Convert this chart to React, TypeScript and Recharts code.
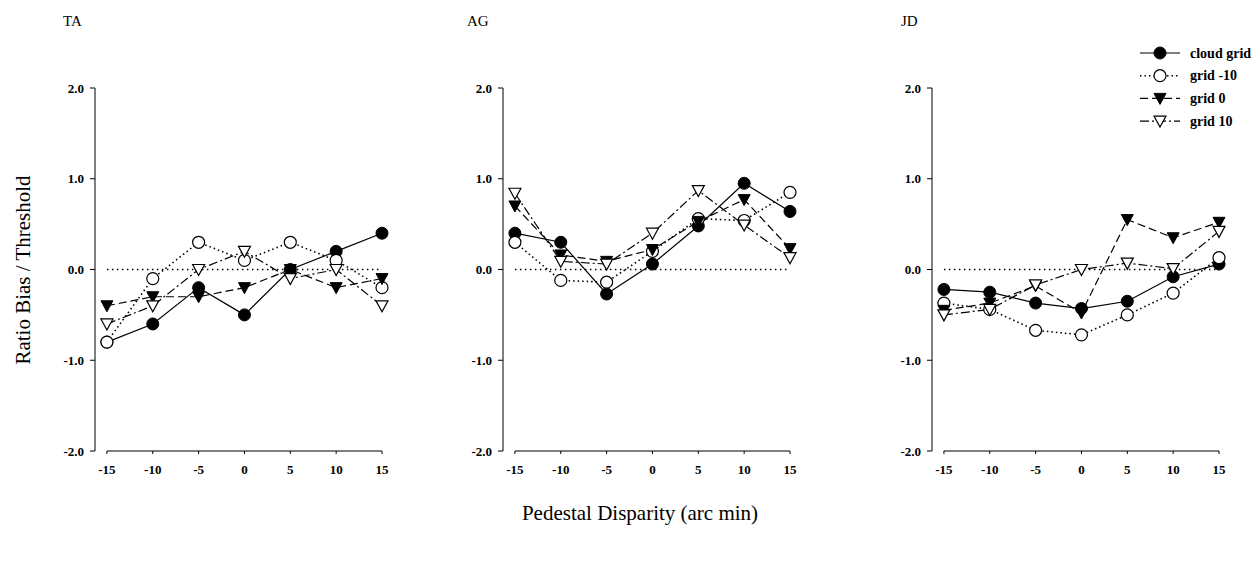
import React from 'react';
import { LineChart, Line, XAxis, YAxis, ReferenceLine } from 'recharts';

const disparity = [-15, -10, -5, 0, 5, 10, 15];
const yTicks = [-2, -1, 0, 1, 2];

// TA
const taCloud = [-0.8, -0.6, -0.2, -0.5, 0.0, 0.2, 0.4];
const taGridM10 = [-0.8, -0.1, 0.3, 0.1, 0.3, 0.1, -0.2];
const taGrid0 = [-0.4, -0.3, -0.3, -0.2, 0.0, -0.2, -0.1];
const taGrid10 = [-0.6, -0.4, 0.0, 0.2, -0.1, 0.0, -0.4];

// AG
const agCloud = [0.4, 0.3, -0.27, 0.06, 0.48, 0.95, 0.64];
const agGridM10 = [0.3, -0.12, -0.14, 0.2, 0.56, 0.54, 0.85];
const agGrid0 = [0.7, 0.16, 0.09, 0.22, 0.53, 0.77, 0.23];
const agGrid10 = [0.84, 0.09, 0.06, 0.4, 0.87, 0.49, 0.13];

// JD
const jdCloud = [-0.22, -0.25, -0.37, -0.43, -0.35, -0.08, 0.06];
const jdGridM10 = [-0.37, -0.44, -0.67, -0.72, -0.5, -0.26, 0.13];
const jdGrid0 = [-0.45, -0.37, -0.18, -0.48, 0.55, 0.35, 0.52];
const jdGrid10 = [-0.5, -0.44, -0.17, 0.0, 0.07, 0.01, 0.42];

const seriesNames = ['cloud grid', 'grid -10', 'grid 0', 'grid 10'];

const FONT = '"Liberation Serif", "Times New Roman", serif';

type Kind = 'filledCircle' | 'openCircle' | 'filledTri' | 'openTri';

const seriesStyle: { key: string; dash?: string; width: number; kind: Kind }[] = [
  { key: 'cloud', width: 1.2, kind: 'filledCircle' },
  { key: 'gm10', dash: '1.5 3', width: 1.6, kind: 'openCircle' },
  { key: 'g0', dash: '8 4', width: 1.2, kind: 'filledTri' },
  { key: 'g10', dash: '9 3 2 3', width: 1.2, kind: 'openTri' },
];

const panels = [
  { title: 'TA', left: 45, titleX: 63, values: [taCloud, taGridM10, taGrid0, taGrid10] },
  { title: 'AG', left: 453, titleX: 467, values: [agCloud, agGridM10, agGrid0, agGrid10] },
  { title: 'JD', left: 882, titleX: 901, values: [jdCloud, jdGridM10, jdGrid0, jdGrid10] },
];

const Marker = ({ kind, cx, cy }: { kind: Kind; cx: number; cy: number }) => {
  if (cx == null || cy == null) return null;
  if (kind === 'filledCircle') return <circle cx={cx} cy={cy} r={6} fill="#000" stroke="#000" />;
  if (kind === 'openCircle') return <circle cx={cx} cy={cy} r={6} fill="#fff" stroke="#000" strokeWidth={1.2} />;
  const pts = `${cx - 6},${cy - 5} ${cx + 6},${cy - 5} ${cx},${cy + 6}`;
  if (kind === 'filledTri') return <polygon points={pts} fill="#000" stroke="#000" />;
  return <polygon points={pts} fill="#fff" stroke="#000" strokeWidth={1.2} />;
};

const tickStyle = { fontFamily: FONT, fontSize: 13, fontWeight: 700, fill: '#000' };

const Panel = ({ panel }: { panel: typeof panels[number] }) => {
  const data = disparity.map((x, i) => {
    const row: any = { x };
    seriesStyle.forEach((s, j) => {
      row[s.key] = panel.values[j][i];
    });
    return row;
  });
  return (
    <div style={{ position: 'absolute', left: panel.left, top: 78 }}>
      <LineChart width={352} height={403} data={data} margin={{ top: 10, right: 15, left: 0, bottom: 0 }}>
        <XAxis
          dataKey="x"
          type="number"
          domain={[-16.3, 15]}
          ticks={disparity}
          axisLine={false}
          tickLine={{ stroke: '#000' }}
          tickSize={3}
          tickMargin={11}
          tick={tickStyle}
          height={30}
        />
        <YAxis
          type="number"
          domain={[-2, 2]}
          ticks={yTicks}
          tickFormatter={(v: number) => v.toFixed(1)}
          axisLine={{ stroke: '#000' }}
          tickLine={{ stroke: '#000' }}
          tickSize={5}
          tickMargin={6}
          tick={tickStyle}
          width={50}
        />
        <ReferenceLine segment={[{ x: -15, y: -2 }, { x: 15, y: -2 }]} stroke="#000" strokeWidth={1.2} />
        <ReferenceLine segment={[{ x: -15, y: 0 }, { x: 15, y: 0 }]} stroke="#000" strokeWidth={1.5} strokeDasharray="1.5 3.5" />
        {seriesStyle.map((s) => (
          <Line
            key={s.key}
            dataKey={s.key}
            stroke="#000"
            strokeWidth={s.width}
            strokeDasharray={s.dash}
            isAnimationActive={false}
            dot={(p: any) => <Marker key={`${s.key}-${p.index}`} kind={s.kind} cx={p.cx} cy={p.cy} />}
            activeDot={false}
          />
        ))}
      </LineChart>
    </div>
  );
};

const LegendBox = () => (
  <svg style={{ position: 'absolute', left: 1130, top: 40 }} width={129} height={95}>
    {seriesStyle.map((s, i) => {
      const y = 13 + i * 22.7;
      return (
        <g key={s.key}>
          <line x1={10} x2={50} y1={y} y2={y} stroke="#000" strokeWidth={s.width} strokeDasharray={s.dash} />
          <Marker kind={s.kind} cx={30} cy={y} />
          <text x={60} y={y + 4.5} fontFamily={FONT} fontSize={14} fontWeight={700} fill="#000">
            {seriesNames[i]}
          </text>
        </g>
      );
    })}
  </svg>
);

export default function App() {
  return (
    <div style={{ position: 'absolute', left: 0, top: 0, width: 1259, height: 561, background: '#fff', fontFamily: FONT }}>
      {panels.map((p) => (
        <div
          key={p.title}
          style={{ position: 'absolute', left: p.titleX, top: 13, fontSize: 15, lineHeight: '16px', color: '#000' }}
        >
          {p.title}
        </div>
      ))}
      {panels.map((p) => (
        <Panel key={p.title} panel={p} />
      ))}
      <LegendBox />
      <div
        style={{
          position: 'absolute',
          left: 23,
          top: 270,
          transform: 'translate(-50%, -50%) rotate(-90deg)',
          whiteSpace: 'nowrap',
          fontSize: 21,
          color: '#000',
        }}
      >
        Ratio Bias / Threshold
      </div>
      <div
        style={{
          position: 'absolute',
          left: 640,
          top: 513,
          transform: 'translate(-50%, -50%)',
          whiteSpace: 'nowrap',
          fontSize: 21,
          color: '#000',
        }}
      >
        Pedestal Disparity (arc min)
      </div>
    </div>
  );
}
